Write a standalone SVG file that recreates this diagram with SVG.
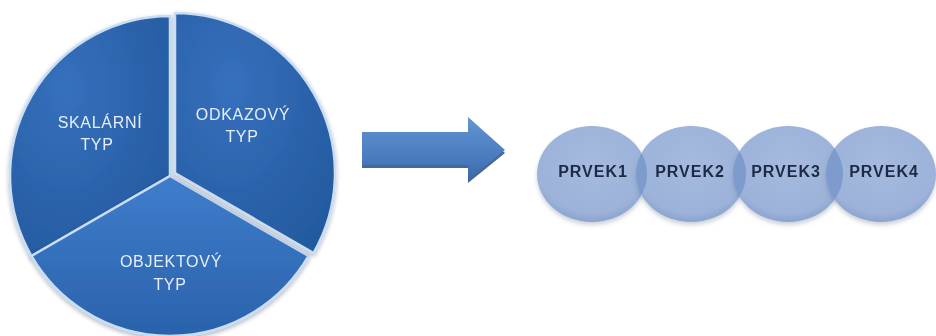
<svg xmlns="http://www.w3.org/2000/svg" width="936" height="336" viewBox="0 0 936 336">
  <defs>
    <radialGradient id="pieFill" cx="0.35" cy="0.3" r="0.8">
      <stop offset="0" stop-color="#3670bd"/>
      <stop offset="1" stop-color="#245a9f"/>
    </radialGradient>
    <linearGradient id="pieBottom" x1="0" y1="0" x2="0" y2="1">
      <stop offset="0" stop-color="#3f7dcc"/>
      <stop offset="1" stop-color="#2a62ab"/>
    </linearGradient>
    <linearGradient id="arrowFill" x1="0" y1="0" x2="0" y2="1">
      <stop offset="0" stop-color="#6295d3"/>
      <stop offset="0.7" stop-color="#4879bd"/>
      <stop offset="1" stop-color="#3a67a8"/>
    </linearGradient>
    <radialGradient id="ballFill" cx="0.5" cy="0.4" r="0.6">
      <stop offset="0" stop-color="#a6badd"/>
      <stop offset="0.85" stop-color="#9cb2d9"/>
      <stop offset="1" stop-color="#8aa3cf"/>
    </radialGradient>
    <filter id="softShadow" x="-10%" y="-10%" width="120%" height="120%">
      <feDropShadow dx="0" dy="2" stdDeviation="2" flood-color="#1b2f4d" flood-opacity="0.35"/>
    </filter>
    <filter id="ballShadow" x="-10%" y="-10%" width="120%" height="130%">
      <feDropShadow dx="0" dy="3" stdDeviation="2" flood-color="#56667f" flood-opacity="0.3"/>
    </filter>
    <clipPath id="clip2"><ellipse cx="691" cy="174" rx="55" ry="48"/></clipPath>
    <clipPath id="clip3"><ellipse cx="788" cy="174" rx="55" ry="48"/></clipPath>
    <clipPath id="clip4"><ellipse cx="881" cy="174" rx="55" ry="48"/></clipPath>
    <style>
      .slice { fill: url(#pieFill); stroke: #c9ddf3; stroke-width: 2.5; stroke-linejoin: round; }
      .slice-bottom { fill: url(#pieBottom); }
      .pie-label { font-family: "Liberation Sans", Arial, sans-serif; font-size: 16px; fill: #e6eefa; text-anchor: middle; letter-spacing: 0.7px; }
      .ball { fill: url(#ballFill); }
      .lens { fill: #7d9bcd; }
      .ball-label { font-family: "Liberation Sans", Arial, sans-serif; font-size: 16px; font-weight: bold; fill: #1e2c47; text-anchor: middle; letter-spacing: 1px; }
    </style>
  </defs>

  <rect width="936" height="336" fill="#ffffff"/>

  <!-- pie chart: three 120° slices around (170,176), r = 160 -->
  <g id="skalarni-typ" filter="url(#softShadow)">
    <path class="slice" d="M170,176 L170,16 A160,160 0 0 0 31.44,256 Z"/>
    <text class="pie-label" x="100" y="128">SKALÁRNÍ</text>
    <text class="pie-label" x="97" y="150">TYP</text>
  </g>
  <g id="objektovy-typ" filter="url(#softShadow)">
    <path class="slice slice-bottom" d="M170,176 L31.44,256 A160,160 0 0 0 308.56,256 Z"/>
    <text class="pie-label" x="171" y="267">OBJEKTOVÝ</text>
    <text class="pie-label" x="170" y="290">TYP</text>
  </g>
  <g id="odkazovy-typ" filter="url(#softShadow)" transform="translate(5,-3)">
    <path class="slice" d="M170,176 L308.56,256 A160,160 0 0 0 170,16 Z"/>
    <text class="pie-label" x="238" y="123">ODKAZOVÝ</text>
    <text class="pie-label" x="237" y="145">TYP</text>
  </g>

  <!-- block arrow between the pie and the chain -->
  <g id="connectors">
    <path d="M362,135 L468,135 L468,120 L505,153 L468,183 L468,168 L362,168 Z" fill="#2b4c7e" opacity="0.85"/>
    <path d="M362,132 L468,132 L468,117 L505,150 L468,180 L468,165 L362,165 Z" fill="url(#arrowFill)"/>
  </g>

  <!-- chain of overlapping elements -->
  <g id="prvek1" filter="url(#ballShadow)">
    <ellipse class="ball" cx="592" cy="174" rx="55" ry="48"/>
    <text class="ball-label" x="593" y="177">PRVEK1</text>
  </g>
  <g id="prvek2" filter="url(#ballShadow)">
    <ellipse class="ball" cx="691" cy="174" rx="55" ry="48"/>
    <ellipse class="lens" cx="592" cy="174" rx="55" ry="48" clip-path="url(#clip2)"/>
    <text class="ball-label" x="690" y="177">PRVEK2</text>
  </g>
  <g id="prvek3" filter="url(#ballShadow)">
    <ellipse class="ball" cx="788" cy="174" rx="55" ry="48"/>
    <ellipse class="lens" cx="691" cy="174" rx="55" ry="48" clip-path="url(#clip3)"/>
    <text class="ball-label" x="786" y="177">PRVEK3</text>
  </g>
  <g id="prvek4" filter="url(#ballShadow)">
    <ellipse class="ball" cx="881" cy="174" rx="55" ry="48"/>
    <ellipse class="lens" cx="788" cy="174" rx="55" ry="48" clip-path="url(#clip4)"/>
    <text class="ball-label" x="884" y="177">PRVEK4</text>
  </g>
</svg>
